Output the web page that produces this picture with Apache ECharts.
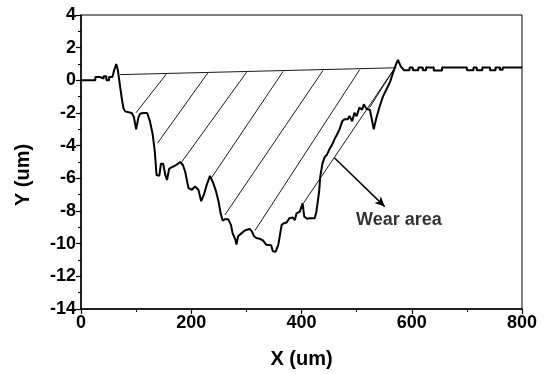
<!DOCTYPE html>
<html>
<head>
<meta charset="utf-8">
<script src="https://cdn.jsdelivr.net/npm/echarts@6/dist/echarts.min.js"></script>
<style>
html,body{margin:0;padding:0;background:#fff;}
#chart{width:546px;height:374px;}
</style>
</head>
<body>
<div id="chart"></div>
<script>
// ---- data ----
var xTicks = [0, 200, 400, 600, 800];
var yTicks = [4, 2, 0, -2, -4, -6, -8, -10, -12, -14];

// surface profile [x (um), y (um)]
var profileX = [0,26,26,35,35,41,41,46,46,51,51,57,60,64,67,71,74,77,80,83,92,96,100,104,107,113,120,125,130,134,137,142,145,149,153,156,160,166,172,180,185,189,195,201,207,213,218,223,228,234,240,245,250,253,257,261,267,272,275,280,282,285,290,293,297,301,306,310,314,318,324,330,336,345,348,353,358,361,364,368,373,378,384,388,391,397,402,405,410,415,424,427,432,434,438,442,446,451,456,460,464,469,474,478,484,487,492,496,500,505,510,513,518,524,527,531,536,542,548,554,561,566,571,575,580,583,586,596,596,602,602,612,612,620,620,626,626,640,640,655,655,700,700,712,712,718,718,728,728,742,742,752,752,760,760,765,765,800];
var profileY = [0,0,0.2,0.2,0.1,0.1,0.25,0.25,0,0,0.2,0.2,0.6,1.0,0.6,-0.4,-1.1,-1.7,-1.9,-2.0,-2.0,-2.25,-3.0,-2.3,-2.05,-2.0,-2.0,-2.5,-3.3,-4.4,-5.8,-5.85,-5.1,-5.1,-5.8,-6.1,-5.4,-5.3,-5.2,-5.0,-5.2,-5.6,-6.6,-6.7,-6.5,-6.7,-7.4,-7.0,-6.4,-5.85,-6.3,-6.8,-7.5,-8.1,-8.6,-8.5,-8.5,-8.85,-9.35,-9.75,-10.06,-9.55,-9.4,-9.35,-9.2,-9.15,-9.1,-9.25,-9.55,-9.65,-9.7,-9.8,-10.06,-10.1,-10.46,-10.5,-10.06,-9.45,-8.85,-8.75,-8.7,-8.44,-8.4,-8.55,-8.14,-8.04,-7.53,-8.34,-8.48,-8.44,-8.44,-8.04,-6.82,-5.9,-5.1,-4.7,-4.56,-4.2,-3.9,-3.6,-3.35,-3.0,-2.5,-2.38,-2.38,-2.18,-2.5,-1.98,-2.2,-1.67,-1.8,-1.47,-1.75,-1.8,-2.28,-3.0,-2.28,-1.57,-0.97,-0.56,-0.06,0.45,0.95,1.25,0.85,0.75,0.62,0.62,0.78,0.78,0.62,0.62,0.78,0.78,0.62,0.62,0.78,0.78,0.6,0.6,0.78,0.78,0.62,0.62,0.78,0.78,0.62,0.62,0.78,0.78,0.62,0.62,0.78,0.78,0.65,0.65,0.78,0.78];

// chord across the wear scar
var chordX = [71, 572];
var chordY = [0.35, 0.77];

// hatch lines: start (on chord) -> end (on profile)
var hatchX0 = [155.6, 230, 300.4, 366.7, 439, 505.5, 569, 569];
var hatchY0 = [0.42, 0.45, 0.5, 0.55, 0.6, 0.65, 0.75, 0.75];
var hatchX1 = [100, 138.7, 182.7, 237, 261, 315.5, 403, 523.6];
var hatchY1 = [-1.98, -3.85, -5.0, -5.95, -8.24, -9.2, -7.55, -1.67];

// annotation
var arrowFrom = [460, -4.76];
var arrowTo = [551, -7.73];
var labelText = 'Wear area';
var labelPos = [499, -8.55];

// ---- build chart ----
function zip(a, b) { return a.map(function (v, i) { return [v, b[i]]; }); }

var series = [];
series.push({
  type: 'line', data: zip(profileX, profileY), showSymbol: false, symbol: 'none',
  lineStyle: { color: '#000', width: 2 }, z: 5, silent: true
});
series.push({
  type: 'line', data: zip(chordX, chordY), symbol: 'none',
  lineStyle: { color: '#000', width: 0.9 }, z: 4, silent: true
});
for (var i = 0; i < hatchX0.length; i++) {
  series.push({
    type: 'line', data: [[hatchX0[i], hatchY0[i]], [hatchX1[i], hatchY1[i]]], symbol: 'none',
    lineStyle: { color: '#000', width: 0.9 }, z: 4, silent: true
  });
}
series.push({
  type: 'scatter', data: [labelPos], symbolSize: 0, silent: true,
  label: { show: true, position: 'right', distance: 0, formatter: labelText,
    color: '#000', fontWeight: 'bold', fontSize: 18, fontFamily: 'Liberation Sans' },
  markLine: {
    silent: true, symbol: ['none', 'arrow'], symbolSize: [7, 10],
    label: { show: false },
    lineStyle: { color: '#000', width: 1.5, type: 'solid' },
    data: [[{ coord: arrowFrom }, { coord: arrowTo }]]
  }
});

var axisFont = { color: '#000', fontWeight: 'bold', fontSize: 18, fontFamily: 'Liberation Sans' };

var option = {
  animation: false,
  backgroundColor: '#fff',
  grid: { left: 81, right: 24, top: 15, bottom: 62, show: true, borderColor: '#000', borderWidth: 1, backgroundColor: 'transparent' },
  xAxis: {
    type: 'value', min: xTicks[0], max: xTicks[xTicks.length - 1], interval: 200,
    name: 'X (um)', nameLocation: 'middle', nameGap: 40,
    nameTextStyle: { color: '#000', fontWeight: 'bold', fontSize: 20, fontFamily: 'Liberation Sans' },
    axisLine: { onZero: false, lineStyle: { color: '#000', width: 1.5 } },
    axisTick: { show: true, length: 5, lineStyle: { color: '#000', width: 1.2 } },
    minorTick: { show: true, splitNumber: 2, length: 3, lineStyle: { color: '#000', width: 1 } },
    splitLine: { show: false },
    axisLabel: Object.assign({ margin: 5 }, axisFont)
  },
  yAxis: {
    type: 'value', min: yTicks[yTicks.length - 1], max: yTicks[0], interval: 2,
    name: 'Y (um)', nameLocation: 'middle', nameGap: 48,
    nameTextStyle: { color: '#000', fontWeight: 'bold', fontSize: 20, fontFamily: 'Liberation Sans', padding: [0, 26, 0, 0] },
    axisLine: { onZero: false, lineStyle: { color: '#000', width: 1.5 } },
    axisTick: { show: true, length: 5, lineStyle: { color: '#000', width: 1.2 } },
    minorTick: { show: true, splitNumber: 2, length: 3, lineStyle: { color: '#000', width: 1 } },
    splitLine: { show: false },
    axisLabel: Object.assign({ margin: 5 }, axisFont)
  },
  series: series
};

var chart = echarts.init(document.getElementById('chart'), null, { renderer: 'canvas' });
chart.setOption(option);
</script>
</body>
</html>
